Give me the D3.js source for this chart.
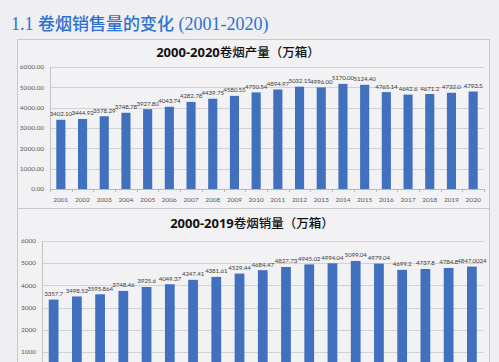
<!DOCTYPE html>
<html><head><meta charset="utf-8">
<script src="https://cdn.jsdelivr.net/npm/d3@7"></script>
<style>
html,body{margin:0;padding:0;background:#efeff1;}
svg{display:block;}
</style></head>
<body>
<svg id="c" width="499" height="362"></svg>
<script>
const prodYears = ["2001","2002","2003","2004","2005","2006","2007","2008","2009","2010","2011","2012","2013","2014","2015","2016","2017","2018","2019","2020"];
const prodValues = [3402.10,3444.92,3578.29,3748.78,3927.80,4043.74,4282.78,4439.75,4580.55,4750.54,4894.97,5032.15,4996.00,5170.00,5124.40,4765.14,4642.6,4671.2,4732.0,4793.5];
const prodLabels = ["3402.10","3444.92","3578.29","3748.78","3927.80","4043.74","4282.78","4439.75","4580.55","4750.54","4894.97","5032.15","4996.00","5170.00","5124.40","4765.14","4642.6","4671.2","4732.0","4793.5"];
const prodTicks = [0,1000,2000,3000,4000,5000,6000];

const salesYears = ["2001","2002","2003","2004","2005","2006","2007","2008","2009","2010","2011","2012","2013","2014","2015","2016","2017","2018","2019"];
const salesValues = [3357.7,3498.52,3595.864,3748.46,3925.6,4049.37,4247.41,4381.61,4529.44,4684.47,4827.73,4945.02,4994.04,5099.04,4979.04,4699.2,4737.8,4784.8,4847.0024];
const salesLabels = ["3357.7","3498.52","3595.864","3748.46","3925.6","4049.37","4247.41","4381.61","4529.44","4684.47","4827.73","4945.02","4994.04","5099.04","4979.04","4699.2","4737.8","4784.8","4847.0024"];
const salesTicks = [0,1000,2000,3000,4000,5000,6000];

const pageTitleA = "1.1 ";
const pageTitleB = "卷烟销售量的变化";
const pageTitleC = " (2001-2020)";
const chart1TitleA = "2000-2020";
const chart1TitleB = "卷烟产量（万箱）";
const chart2TitleA = "2000-2019";
const chart2TitleB = "卷烟销量（万箱）";

const svg = d3.select("#c");
const barColor = "#4070be";
const gridColor = "#d2d2d4";
const tickColor = "#595959";
const numFont = "Lato, 'Liberation Sans', sans-serif";

// page title
const t = svg.append("text").attr("x", 11).attr("y", 30).attr("fill", "#2e72cf").attr("font-size", 18);
t.append("tspan").attr("font-family", "'Liberation Serif', serif").text(pageTitleA);
t.append("tspan").attr("font-family", "'Noto Sans CJK SC', sans-serif").attr("font-size", 17).attr("font-weight", 500).text(pageTitleB);
t.append("tspan").attr("font-family", "'Liberation Serif', serif").text(pageTitleC);

// panel
svg.append("rect").attr("x", 17.5).attr("y", 39.5).attr("width", 472).attr("height", 330)
  .attr("fill", "#f2f2f4").attr("stroke", "#c8c8cc").attr("stroke-width", 1);
svg.append("line").attr("x1", 17.5).attr("x2", 489.5).attr("y1", 208.5).attr("y2", 208.5)
  .attr("stroke", "#c8c8cc");

function drawChart(cfg) {
  const g = svg.append("g");
  const y = d3.scaleLinear().domain([0, 6000]).range([cfg.y0, cfg.y6]);
  const x = d3.scaleBand().domain(cfg.years).range([cfg.left, cfg.right]).paddingInner(0.58).paddingOuter(0.29);

  g.append("g").selectAll("line").data(cfg.ticks).join("line")
    .attr("x1", cfg.left).attr("x2", cfg.right)
    .attr("y1", d => Math.round(y(d)) + 0.5).attr("y2", d => Math.round(y(d)) + 0.5)
    .attr("stroke", gridColor).attr("stroke-width", 1);

  g.append("line").attr("x1", cfg.left + 0.5).attr("x2", cfg.left + 0.5)
    .attr("y1", y(6000)).attr("y2", y(0)).attr("stroke", "#c4c4c8");

  g.append("g").selectAll("text").data(cfg.ticks).join("text")
    .attr("x", cfg.labelX).attr("y", d => y(d)).attr("dy", "0.35em")
    .attr("text-anchor", "end").attr("font-size", 6.5).attr("font-family", numFont)
    .attr("fill", tickColor).text(cfg.tickFmt);

  g.append("g").selectAll("rect").data(cfg.values).join("rect")
    .attr("x", (d, i) => x(cfg.years[i])).attr("width", x.bandwidth())
    .attr("y", d => y(d)).attr("height", d => y(0) - y(d))
    .attr("fill", barColor);

  g.append("g").selectAll("text").data(cfg.values).join("text")
    .attr("x", (d, i) => x(cfg.years[i]) + x.bandwidth() / 2)
    .attr("y", d => y(d) - 3.5)
    .attr("text-anchor", "middle").attr("font-size", 6.2).attr("font-family", numFont)
    .attr("letter-spacing", -0.1)
    .attr("fill", "#404040").text((d, i) => cfg.labels[i]);

  if (cfg.showX) {
    const ax = d3.axisBottom(x).tickSizeOuter(0).tickSize(0);
    const axg = g.append("g").attr("transform", `translate(0,${y(0)})`).call(ax);
    axg.select(".domain").attr("stroke", "#b8b8bc");
    axg.selectAll("text").attr("font-size", 6.5).attr("font-family", numFont).attr("fill", tickColor).attr("dy", "1.5em");
    const bounds = cfg.years.map(yr => x(yr) - x.step() * x.paddingInner() / 2).concat([cfg.right]);
    g.append("g").selectAll("line").data(bounds).join("line")
      .attr("x1", d => Math.round(d) + 0.5).attr("x2", d => Math.round(d) + 0.5)
      .attr("y1", y(0)).attr("y2", y(0) + 3).attr("stroke", "#b8b8bc");
  }

  const tt = svg.append("text").attr("x", cfg.titleX).attr("y", cfg.titleY)
    .attr("text-anchor", "middle").attr("font-size", 13).attr("fill", "#111").attr("font-weight", "bold");
  tt.append("tspan").attr("font-family", "'Open Sans', 'Liberation Sans', sans-serif").text(cfg.titleA);
  tt.append("tspan").attr("font-family", "'Noto Sans CJK SC', serif").attr("font-weight", 500).attr("font-size", 12.5).text(cfg.titleB);
}

drawChart({
  years: prodYears, values: prodValues, labels: prodLabels, ticks: prodTicks,
  y0: 189, y6: 67, left: 50, right: 484, labelX: 44,
  tickFmt: d3.format(".2f"), showX: true,
  titleA: chart1TitleA, titleB: chart1TitleB, titleX: 238, titleY: 57
});

drawChart({
  years: salesYears, values: salesValues, labels: salesLabels, ticks: salesTicks,
  y0: 374, y6: 241, left: 42, right: 483.5, labelX: 36,
  tickFmt: d3.format("d"), showX: false,
  titleA: chart2TitleA, titleB: chart2TitleB, titleX: 252, titleY: 228
});
</script>
</body></html>
